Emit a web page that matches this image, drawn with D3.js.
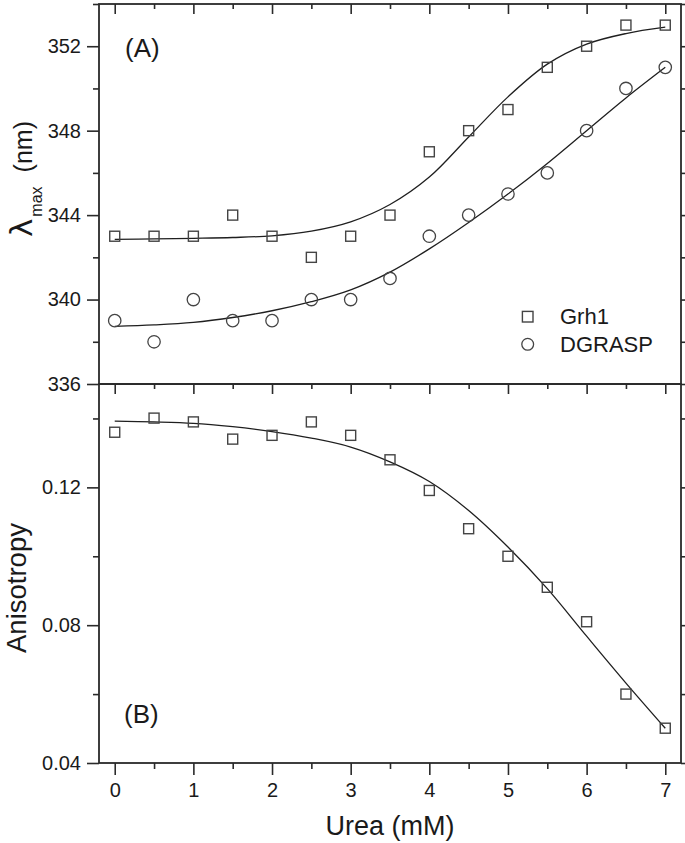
<!DOCTYPE html>
<html>
<head>
<meta charset="utf-8">
<script src="https://cdn.jsdelivr.net/npm/d3@7"></script>
<style>
  html, body { margin: 0; padding: 0; background: #fff; }
  svg { display: block; }
  text { font-family: "Liberation Sans", Arial, sans-serif; fill: #1a1a1a; }
</style>
</head>
<body>
<svg id="chart" width="685" height="843"></svg>
<script>
// ---- data ----
const urea = [0, 0.5, 1, 1.5, 2, 2.5, 3, 3.5, 4, 4.5, 5, 5.5, 6, 6.5, 7];
const grh1Lambda   = [343, 343, 343, 344, 343, 342, 343, 344, 347, 348, 349, 351, 352, 353, 353];
const dgraspLambda = [339, 338, 340, 339, 339, 340, 340, 341, 343, 344, 345, 346, 348, 350, 351];
const grh1LambdaFit   = [342.85, 342.87, 342.9, 342.94, 343.02, 343.24, 343.68, 344.5, 345.8, 347.7, 349.6, 351.15, 352.1, 352.6, 352.9];
const dgraspLambdaFit = [338.73, 338.8, 338.92, 339.15, 339.47, 339.9, 340.46, 341.3, 342.4, 343.65, 345.0, 346.45, 348.0, 349.55, 351.0];
const grh1Aniso    = [0.1360, 0.1401, 0.1390, 0.1340, 0.1351, 0.1390, 0.1351, 0.1280, 0.1191, 0.1080, 0.1000, 0.0910, 0.0810, 0.0600, 0.0501];
const grh1AnisoFit = [0.1392, 0.1390, 0.1386, 0.1376, 0.1362, 0.1343, 0.1317, 0.1274, 0.1217, 0.1133, 0.1027, 0.0906, 0.0768, 0.0632, 0.0501];

const xMajor = [0, 1, 2, 3, 4, 5, 6, 7];
const xMinor = [0.5, 1.5, 2.5, 3.5, 4.5, 5.5, 6.5];
const yTopMajor = [336, 340, 344, 348, 352];
const yTopMinor = [338, 342, 346, 350, 354];
const yBotMajor = [0.04, 0.08, 0.12];
const yBotMinor = [0.06, 0.10, 0.14];
const legendNames = ["Grh1", "DGRASP"];

// ---- layout ----
const L = 99, R = 681, T = 4, M = 384, B = 763;
const svg = d3.select("#chart");
const x = d3.scaleLinear().domain([-0.2, 7.2]).range([L, R]);
const yTop = d3.scaleLinear().domain([336, 354]).range([M, T]);
const yBot = d3.scaleLinear().domain([0.04, 0.15]).range([B, M]);

const axisColor = "#2a2a2a";
function styleAxis(g) {
  g.select(".domain").remove();
  g.selectAll(".tick line").attr("stroke", axisColor).attr("stroke-width", 1.6);
  g.selectAll(".tick text").style("font-size", "20px").attr("fill", "#1a1a1a");
}
function addAxis(gen, tx, ty) {
  svg.append("g").attr("transform", `translate(${tx},${ty})`).call(gen).call(styleAxis);
}

// ---- top panel axes ----
addAxis(d3.axisLeft(yTop).tickValues(yTopMajor).tickSize(12).tickPadding(6).tickFormat(d3.format("d")), L, 0);
addAxis(d3.axisLeft(yTop).tickValues(yTopMinor).tickSize(6).tickFormat(""), L, 0);
addAxis(d3.axisLeft(yTop).tickValues(yTopMajor).tickSize(-11).tickFormat(""), R, 0);
addAxis(d3.axisLeft(yTop).tickValues(yTopMinor).tickSize(-6).tickFormat(""), R, 0);
addAxis(d3.axisTop(x).tickValues(xMajor).tickSize(-10).tickFormat(""), 0, T);
addAxis(d3.axisTop(x).tickValues(xMinor).tickSize(-5).tickFormat(""), 0, T);
// ticks at the shared border (pointing down)
addAxis(d3.axisTop(x).tickValues(xMajor).tickSize(-10).tickFormat(""), 0, M);
addAxis(d3.axisTop(x).tickValues(xMinor).tickSize(-5).tickFormat(""), 0, M);

// ---- bottom panel axes ----
addAxis(d3.axisLeft(yBot).tickValues(yBotMajor).tickSize(12).tickPadding(6).tickFormat(d3.format(".2f")), L, 0);
addAxis(d3.axisLeft(yBot).tickValues(yBotMinor).tickSize(6).tickFormat(""), L, 0);
addAxis(d3.axisLeft(yBot).tickValues(yBotMajor).tickSize(-11).tickFormat(""), R, 0);
addAxis(d3.axisLeft(yBot).tickValues(yBotMinor).tickSize(-6).tickFormat(""), R, 0);
addAxis(d3.axisBottom(x).tickValues(xMajor).tickSize(12).tickPadding(8).tickFormat(d3.format("d")), 0, B);
addAxis(d3.axisBottom(x).tickValues(xMinor).tickSize(6).tickFormat(""), 0, B);

// ---- frames ----
svg.append("rect").attr("x", L).attr("y", T).attr("width", R - L).attr("height", M - T)
  .attr("fill", "none").attr("stroke", axisColor).attr("stroke-width", 1.8);
svg.append("rect").attr("x", L).attr("y", M).attr("width", R - L).attr("height", B - M)
  .attr("fill", "none").attr("stroke", axisColor).attr("stroke-width", 1.8);

// ---- fit lines ----
function drawFit(values, yScale) {
  const line = d3.line().x((d, i) => x(urea[i])).y(d => yScale(d)).curve(d3.curveCatmullRom.alpha(0.5));
  svg.append("path").attr("d", line(values)).attr("fill", "none")
    .attr("stroke", "#1f1f1f").attr("stroke-width", 1.3);
}
drawFit(grh1LambdaFit, yTop);
drawFit(dgraspLambdaFit, yTop);
drawFit(grh1AnisoFit, yBot);

// ---- markers ----
const markerColor = "#444";
const sq = 10, cr = 6.2;
function drawSquares(values, yScale) {
  svg.append("g").selectAll("rect").data(values).join("rect")
    .attr("x", (d, i) => x(urea[i]) - sq / 2).attr("y", d => yScale(d) - sq / 2)
    .attr("width", sq).attr("height", sq)
    .attr("fill", "none").attr("stroke", markerColor).attr("stroke-width", 1.4);
}
function drawCircles(values, yScale) {
  svg.append("g").selectAll("circle").data(values).join("circle")
    .attr("cx", (d, i) => x(urea[i])).attr("cy", d => yScale(d)).attr("r", cr)
    .attr("fill", "none").attr("stroke", markerColor).attr("stroke-width", 1.3);
}
drawSquares(grh1Lambda, yTop);
drawCircles(dgraspLambda, yTop);
drawSquares(grh1Aniso, yBot);

// ---- legend ----
svg.append("rect").attr("x", 527.7 - 5.3).attr("y", 316.7 - 5.3).attr("width", 10.6).attr("height", 10.6)
  .attr("fill", "none").attr("stroke", markerColor).attr("stroke-width", 1.4);
svg.append("circle").attr("cx", 527.7).attr("cy", 344.3).attr("r", 5.9)
  .attr("fill", "none").attr("stroke", markerColor).attr("stroke-width", 1.3);
svg.append("text").attr("x", 560).attr("y", 324).style("font-size", "22px").text(legendNames[0]);
svg.append("text").attr("x", 560).attr("y", 351.7).style("font-size", "22px").text(legendNames[1]);

// ---- panel labels ----
svg.append("text").attr("x", 125).attr("y", 57).style("font-size", "26px").text("(A)");
svg.append("text").attr("x", 124).attr("y", 723).style("font-size", "26px").text("(B)");

// ---- axis titles ----
const yt = svg.append("text").attr("transform", "translate(31.5,179) rotate(-90)")
  .attr("text-anchor", "middle");
yt.append("tspan").style("font-size", "31px").style("font-family", "'DejaVu Sans', sans-serif").text("λ");
yt.append("tspan").style("font-size", "16px").attr("dy", 10).attr("dx", 2).text("max");
yt.append("tspan").style("font-size", "25px").attr("dy", -10).attr("dx", 14).text("(nm)");

svg.append("text").attr("transform", "translate(26,588) rotate(-90)")
  .attr("text-anchor", "middle").style("font-size", "27.5px").text("Anisotropy");

svg.append("text").attr("x", 390).attr("y", 835).attr("text-anchor", "middle")
  .style("font-size", "27px").text("Urea (mM)");
</script>
</body>
</html>
